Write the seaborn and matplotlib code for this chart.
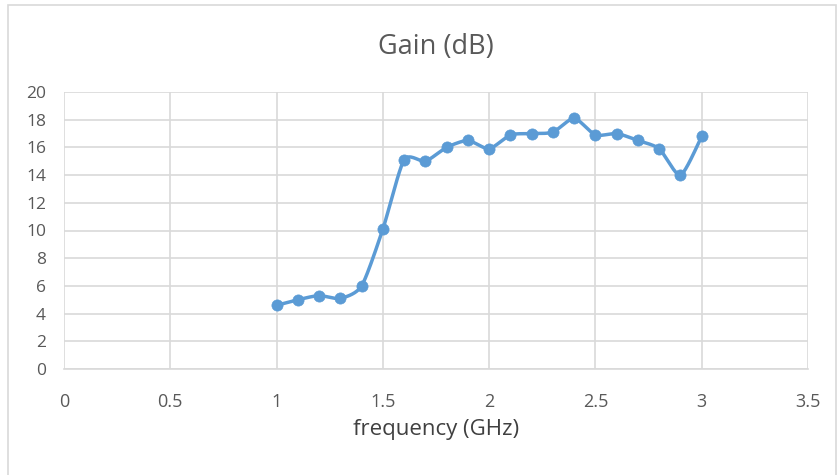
import numpy as np
import pandas as pd
import matplotlib
matplotlib.use("Agg")
import matplotlib.pyplot as plt
import seaborn as sns

freq = [1.0, 1.1, 1.2, 1.3, 1.4, 1.5, 1.6, 1.7, 1.8, 1.9, 2.0,
        2.1, 2.2, 2.3, 2.4, 2.5, 2.6, 2.7, 2.8, 2.9, 3.0]
gain = [4.6, 5.0, 5.3, 5.1, 6.0, 10.1, 15.1, 15.0, 16.0, 16.5, 15.9,
        16.9, 17.0, 17.1, 18.1, 16.9, 17.0, 16.5, 15.9, 14.0, 16.8]
x_ticks = [0, 0.5, 1, 1.5, 2, 2.5, 3, 3.5]
x_tick_labels = ["0", "0.5", "1", "1.5", "2", "2.5", "3", "3.5"]
y_ticks = list(range(0, 21, 2))
title = "Gain (dB)"
x_label = "frequency (GHz)"

df = pd.DataFrame({"freq": freq, "gain": gain})

sns.set_theme(style="white")
plt.rcParams["font.family"] = ["Open Sans", "DejaVu Sans"]

color = "#5B9BD5"
grid_c = "#D9D9D9"
text_c = "#595959"

fig = plt.figure(figsize=(8.4, 4.75), dpi=100)
ax = fig.add_axes([64/840, 1-369/475, (808-64)/840, (369-92)/475])

# Smoothed line (cardinal spline through the data points, like Excel's smoothed line)
def cardinal(xs, ys, tension=0.3, n=20):
    xs = np.asarray(xs, float); ys = np.asarray(ys, float)
    px = np.concatenate([[xs[0]], xs, [xs[-1]]])
    py = np.concatenate([[ys[0]], ys, [ys[-1]]])
    s = (1 - tension) / 2
    outx, outy = [], []
    t = np.linspace(0, 1, n, endpoint=False)
    h00 = 2*t**3 - 3*t**2 + 1
    h10 = t**3 - 2*t**2 + t
    h01 = -2*t**3 + 3*t**2
    h11 = t**3 - t**2
    for i in range(1, len(px)-2):
        for P, out in ((px, outx), (py, outy)):
            p0, p1, p2, p3 = P[i-1], P[i], P[i+1], P[i+2]
            m1 = s*(p2 - p0); m2 = s*(p3 - p1)
            out.extend(h00*p1 + h10*m1 + h01*p2 + h11*m2)
    outx.append(xs[-1]); outy.append(ys[-1])
    return np.array(outx), np.array(outy)

sx, sy = cardinal(freq, gain)
smooth = pd.DataFrame({"freq": sx, "gain": sy})
sns.lineplot(data=smooth, x="freq", y="gain", ax=ax, color=color, lw=2.5,
             sort=False, estimator=None, zorder=3)
sns.scatterplot(data=df, x="freq", y="gain", ax=ax, color=color, s=65,
                edgecolor=color, linewidth=0.5, zorder=4)

ax.set_xlim(0, 3.5)
ax.set_ylim(0, 20)
ax.set_xticks(x_ticks)
ax.set_xticklabels(x_tick_labels)
ax.set_yticks(y_ticks)
ax.grid(True, color=grid_c, lw=1.2)
ax.set_axisbelow(True)
for s in ["top", "right", "left"]:
    ax.spines[s].set_visible(False)
ax.spines["bottom"].set_color(grid_c)
ax.spines["bottom"].set_linewidth(1.2)
ax.tick_params(axis="x", length=0, labelsize=13, colors=text_c, pad=17)
ax.tick_params(axis="y", length=0, labelsize=12.5, colors=text_c, pad=13)
ax.set_xlabel(x_label, fontsize=16, color="#404040", labelpad=6)
ax.set_ylabel("")
fig.text((64+808)/2/840, 1-47/475, title, ha="center", va="center",
         fontsize=19.5, color=text_c)

border = plt.Rectangle((8/840, -0.02), (836-8)/840, 1-5/475+0.02,
                       transform=fig.transFigure, fill=False,
                       edgecolor="#D9D9D9", lw=1.2)
fig.add_artist(border)

fig.savefig("out.png", dpi=100)
